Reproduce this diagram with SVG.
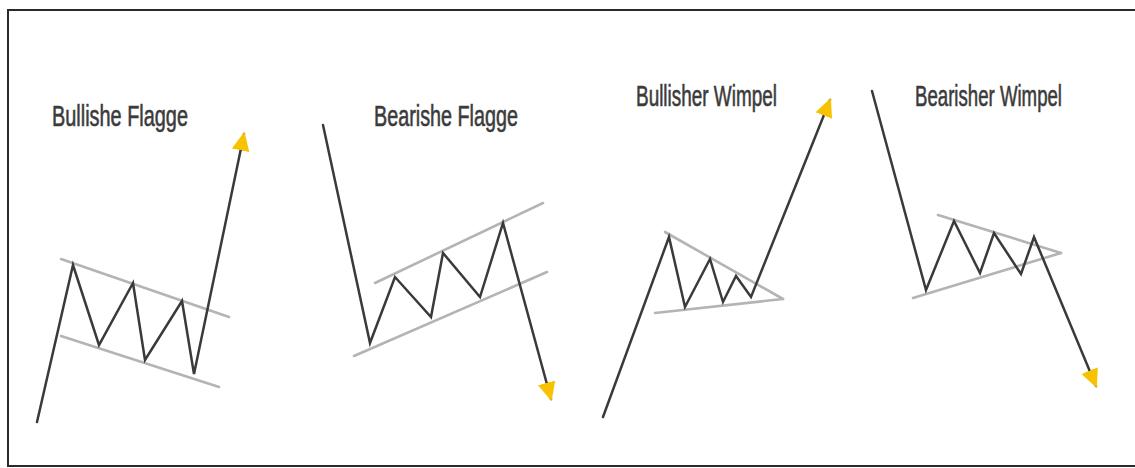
<svg xmlns="http://www.w3.org/2000/svg" width="1135" height="468" viewBox="0 0 1135 468">
<style>
.lbl{font-family:"Liberation Sans Narrow","Liberation Sans",Arial,sans-serif;font-size:29px;fill:#3b3b3b;stroke:#3b3b3b;stroke-width:0.6;}
.price{fill:none;stroke:#3a3a3a;stroke-width:2.5;stroke-linejoin:miter;stroke-linecap:round;}
.trend{fill:none;stroke:#b4b4b4;stroke-width:2.6;stroke-linecap:round;}
</style>
<defs>
<marker id="arr" markerUnits="userSpaceOnUse" markerWidth="20" markerHeight="20" viewBox="0 0 18 18" refX="15" refY="9" orient="auto">
<path d="M0,1 L17,9 L0,17 Z" fill="#f7c300"/>
</marker>
</defs>
<path d="M1135,10 H8 V466 H1135" fill="none" stroke="#2a2a2a" stroke-width="2"/>
<g id="bullishe-flagge">
<text class="lbl" transform="translate(52,126) scale(0.64,1)" x="0" y="0" textLength="212.5" lengthAdjust="spacingAndGlyphs">Bullishe Flagge</text>
<line class="trend" x1="61" y1="259" x2="229" y2="317"/>
<line class="trend" x1="61" y1="336" x2="219" y2="387"/>
</g>
<g id="bearishe-flagge">
<text class="lbl" transform="translate(374,126) scale(0.64,1)" x="0" y="0" textLength="225" lengthAdjust="spacingAndGlyphs">Bearishe Flagge</text>
<line class="trend" x1="375" y1="283" x2="543" y2="203"/>
<line class="trend" x1="354" y1="356" x2="547" y2="272"/>
</g>
<g id="bullisher-wimpel">
<text class="lbl" transform="translate(636,106) scale(0.64,1)" x="0" y="0" textLength="220.3" lengthAdjust="spacingAndGlyphs">Bullisher Wimpel</text>
<line class="trend" x1="665" y1="232" x2="783" y2="299"/>
<line class="trend" x1="655" y1="313" x2="783" y2="299"/>
</g>
<g id="bearisher-wimpel">
<text class="lbl" transform="translate(915,106) scale(0.64,1)" x="0" y="0" textLength="229.7" lengthAdjust="spacingAndGlyphs">Bearisher Wimpel</text>
<line class="trend" x1="938" y1="215" x2="1061" y2="253"/>
<line class="trend" x1="913" y1="298" x2="1061" y2="253"/>
</g>
<g id="connectors">
<polyline class="price" points="37,422 73,265 99,345 133,283 145,360 182,301 194,374 244,134" marker-end="url(#arr)"/>
<polyline class="price" points="323,125 370,343 395,277 431,317 443,253 480,297 503,223 551,399" marker-end="url(#arr)"/>
<polyline class="price" points="603,417 669,237 685,307 710,259 723,302 736,276 751,297 830,100" marker-end="url(#arr)"/>
<polyline class="price" points="872,91 926,290 954,221 980,273 994,233 1021,274 1034,237 1096,386" marker-end="url(#arr)"/>
</g>
</svg>
